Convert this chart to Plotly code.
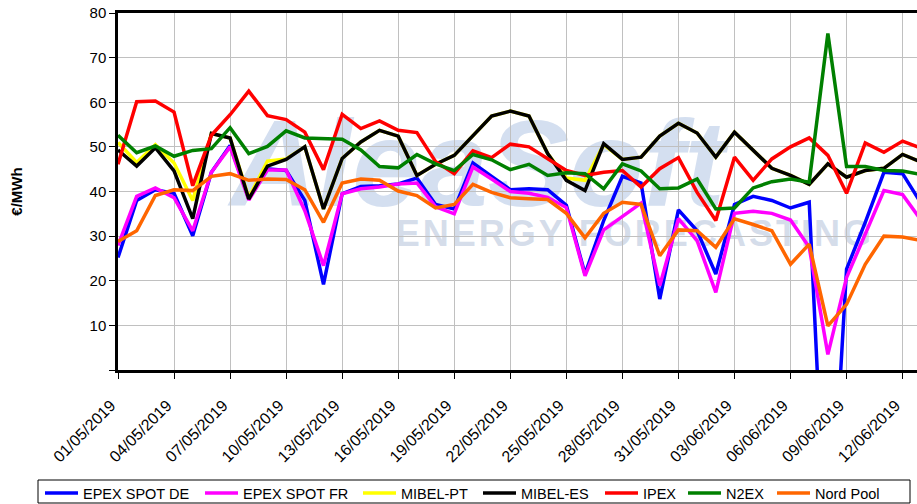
import pandas as pd
import plotly.graph_objects as go

dates = pd.date_range("2019-05-01", periods=44, freq="D")

epex_de = [25.2, 38.0, 40.4, 39.6, 30.1, 44.3, 50.3, 38.4, 45.1, 44.7, 38.0, 19.2, 39.5, 41.1, 41.3,
           41.7, 43.0, 37.1, 36.1, 46.4, 43.4, 40.4, 40.6, 40.4, 36.9, 21.5, 33.5, 43.4, 41.9, 15.9,
           35.9, 31.2, 21.5, 37.1, 38.9, 38.0, 36.3, 37.6, -50.0, 22.6, 33.1, 44.3, 44.0, 37.3]
epex_fr = [27.9, 38.9, 40.8, 38.6, 31.2, 44.3, 50.0, 38.1, 44.8, 44.8, 35.7, 23.4, 39.5, 40.6, 41.0,
           41.7, 41.9, 36.6, 35.0, 45.5, 42.8, 40.0, 39.6, 38.7, 36.4, 21.1, 31.4, 34.4, 37.4, 18.9,
           33.9, 29.0, 17.4, 35.1, 35.6, 35.1, 33.6, 27.5, 3.5, 20.7, 30.5, 40.2, 39.3, 33.5]
mibel_pt = [51.0, 46.5, 50.5, 46.4, 38.0, 53.0, 52.0, 38.6, 46.8, 47.3, 50.0, 36.1, 47.4, 51.1, 53.7,
            52.4, 43.6, 46.1, 48.1, 52.6, 56.9, 58.0, 56.9, 48.5, 43.0, 42.5, 50.5, 47.2, 47.7, 52.4,
            55.3, 53.1, 47.7, 53.3, 49.3, 45.2, 43.6, 41.6, 46.2, 43.2, 44.7, 45.2, 48.3, 46.6]
mibel_es = [49.3, 45.7, 49.8, 44.6, 33.9, 53.0, 52.0, 38.3, 45.7, 47.2, 50.0, 36.1, 47.4, 51.1, 53.7,
            52.4, 43.6, 46.1, 48.1, 52.6, 56.9, 58.0, 56.9, 48.5, 42.5, 40.2, 50.7, 47.2, 47.7, 52.4,
            55.3, 53.1, 47.7, 53.3, 49.3, 45.2, 43.6, 41.6, 46.2, 43.2, 44.7, 45.2, 48.3, 46.6]
ipex = [46.1, 60.1, 60.3, 57.8, 41.3, 52.6, 57.2, 62.5, 57.0, 56.1, 53.3, 44.9, 57.3, 54.1, 55.8,
        53.7, 53.2, 46.7, 44.0, 49.1, 47.6, 50.6, 50.0, 47.3, 44.7, 43.6, 44.3, 44.7, 41.0, 45.1,
        47.6, 39.8, 33.5, 47.7, 42.5, 47.3, 50.0, 52.0, 48.1, 39.6, 50.9, 48.8, 51.3, 49.7]
n2ex = [52.6, 48.7, 50.2, 47.9, 49.2, 49.6, 54.3, 48.5, 50.1, 53.6, 52.0, 51.8, 51.7, 49.3, 45.6,
        45.3, 48.3, 46.2, 44.7, 48.3, 47.1, 44.9, 46.1, 43.6, 44.2, 44.0, 40.6, 46.2, 44.6, 40.6,
        40.8, 42.8, 36.1, 36.3, 40.8, 42.2, 42.8, 42.1, 75.4, 45.6, 45.6, 44.7, 44.6, 43.8]
nord_pool = [28.8, 31.2, 39.1, 40.4, 40.2, 43.4, 44.0, 42.5, 42.8, 42.7, 40.4, 33.1, 41.9, 42.8, 42.5,
             40.1, 39.1, 36.3, 37.1, 41.6, 39.8, 38.6, 38.4, 38.2, 35.1, 29.6, 35.1, 37.6, 37.1, 25.6,
             31.4, 31.2, 27.5, 33.9, 32.6, 31.2, 23.7, 28.2, 9.9, 14.7, 23.7, 30.0, 29.8, 29.0]

series_names = ["EPEX SPOT DE", "EPEX SPOT FR", "MIBEL-PT", "MIBEL-ES", "IPEX", "N2EX", "Nord Pool"]
series_values = [epex_de, epex_fr, mibel_pt, mibel_es, ipex, n2ex, nord_pool]
series_colors = ["#0000ff", "#ff00ff", "#ffff00", "#000000", "#ff0000", "#008000", "#ff6600"]

y_tickvals = [0, 10, 20, 30, 40, 50, 60, 70, 80]
y_ticktext = ["", "10", "20", "30", "40", "50", "60", "70", "80"]

FONT = "Liberation Sans, Arial, sans-serif"

W, H = 917, 504
ML, MT, MB = 118, 13, 134
PW, PH = W - ML, H - MT - MB


def px_x(p):
    return (p - ML) / PW


def px_y(p):
    return (H - MB - p) / PH


# legend entry left edges (px), one legend per series so spacing matches
legend_left_px = [40, 200, 358, 478, 600, 683, 772]

fig = go.Figure()
legend_layouts = {}
for i, (name, vals, col) in enumerate(zip(series_names, series_values, series_colors)):
    lname = "legend" if i == 0 else f"legend{i + 1}"
    fig.add_trace(go.Scatter(x=dates, y=vals, name=name, mode="lines",
                             line=dict(color=col, width=3.5), legend=lname))
    legend_layouts[lname] = dict(
        orientation="h", x=px_x(legend_left_px[i]), xanchor="left",
        y=px_y(477), yanchor="top", bgcolor="rgba(0,0,0,0)", borderwidth=0,
        itemwidth=33, font=dict(size=14.5, family=FONT, color="black"))

fig.update_layout(
    width=W, height=H,
    margin=dict(l=ML, r=0, t=MT, b=MB, autoexpand=False),
    paper_bgcolor="white", plot_bgcolor="white",
    font=dict(family=FONT, color="black"),
    showlegend=True,
    xaxis=dict(type="date", range=["2019-05-01", "2019-06-12 18:30"],
               tick0="2019-05-01", dtick=3 * 86400000, tickformat="%d/%m/%Y",
               tickangle=-45, tickfont=dict(size=16), ticks="outside", ticklen=6,
               tickcolor="black", showgrid=True, gridcolor="#c0c0c0", gridwidth=1,
               showline=True, linecolor="black", linewidth=2.5, mirror=True,
               ticklabelstandoff=11, ticklabelshift=-7, zeroline=False, automargin=False),
    yaxis=dict(range=[0, 80], tickvals=y_tickvals, ticktext=y_ticktext,
               tickfont=dict(size=15), ticks="outside", ticklen=6, tickcolor="black",
               showgrid=True, gridcolor="#c0c0c0", gridwidth=1,
               showline=True, linecolor="black", linewidth=2.5, zeroline=False,
               automargin=False,
               title=dict(text="<b>€/MWh</b>", font=dict(size=15), standoff=64)),
    shapes=[
        dict(type="rect", xref="paper", yref="paper", x0=0.25, x1=0.65, y0=0.52, y1=0.70,
             layer="below", line=dict(width=0), fillcolor="rgba(0,0,0,0)",
             label=dict(text="<b><i>AleaSoft</i></b>", textposition="middle center",
                        font=dict(size=122, family=FONT, color="rgba(170,192,225,0.5)"))),
        dict(type="rect", xref="paper", yref="paper", x0=0.435, x1=0.855, y0=0.34, y1=0.44,
             layer="below", line=dict(width=0), fillcolor="rgba(0,0,0,0)",
             label=dict(text="<b>" + "\u200a".join("ENERGY FORECASTING") + "</b>",
                        textposition="middle center",
                        font=dict(size=36, family=FONT, color="rgba(185,198,220,0.6)"))),
        dict(type="rect", xref="paper", yref="paper", x0=px_x(38), x1=px_x(910),
             y0=px_y(503), y1=px_y(480), layer="above",
             line=dict(color="black", width=1), fillcolor="rgba(0,0,0,0)"),
    ],
    **legend_layouts,
)

fig.write_html("out.html",
               config={"displayModeBar": False},
               post_script="document.body.style.margin='0px';"
                           "document.body.style.overflow='hidden';")
